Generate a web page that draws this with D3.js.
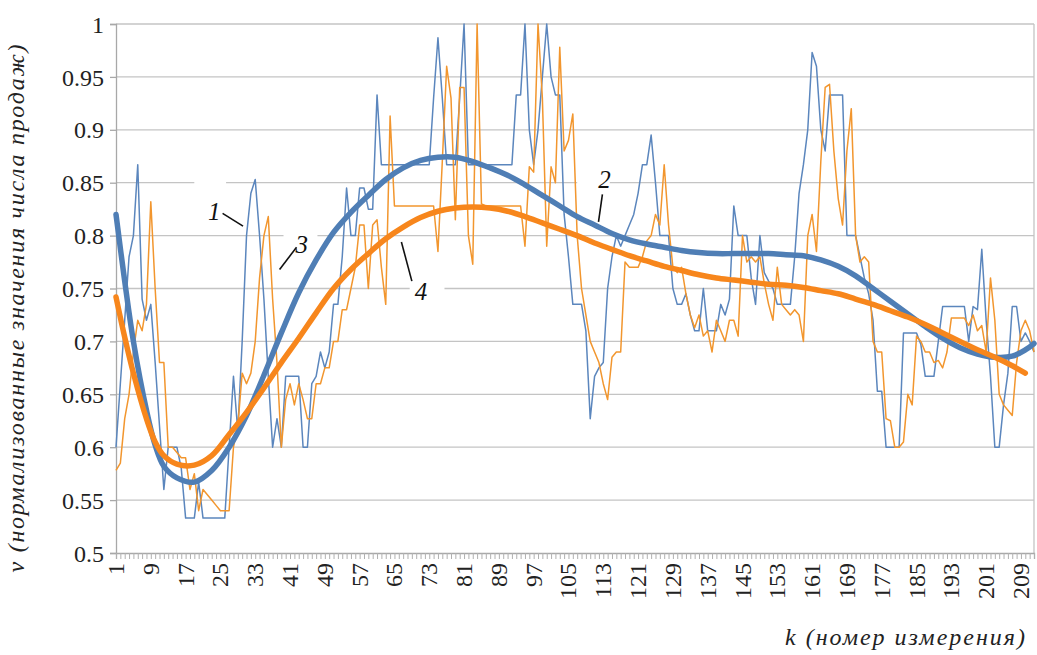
<!DOCTYPE html>
<html><head><meta charset="utf-8">
<script src="https://cdn.jsdelivr.net/npm/d3@7"></script>
<style>body{margin:0;background:#fff}svg{display:block}</style>
</head><body>
<svg id="c" width="1037" height="655"></svg>
<script>
// ---- data ----
const categories = d3.range(1, 213);               // k = 1..212
const xTickLabels = d3.range(1, 213, 8);            // 1, 9, 17, ... 209
const yTicks = [0.5,0.55,0.6,0.65,0.7,0.75,0.8,0.85,0.9,0.95,1];
const yTickLabels = ["0.5","0.55","0.6","0.65","0.7","0.75","0.8","0.85","0.9","0.95","1"];

const series1 = [ // curve 1 (blue, thin)
0.600,0.660,0.720,0.780,0.800,0.867,0.740,0.720,0.735,0.680,
0.620,0.560,0.600,0.600,0.600,0.580,0.533,0.533,0.533,0.567,
0.533,0.533,0.533,0.533,0.533,0.533,0.600,0.667,0.615,0.700,
0.800,0.840,0.853,0.800,0.740,0.667,0.600,0.627,0.600,0.667,
0.667,0.667,0.667,0.600,0.600,0.660,0.667,0.690,0.675,0.690,
0.735,0.735,0.780,0.845,0.800,0.800,0.845,0.845,0.825,0.825,
0.933,0.867,0.867,0.867,0.867,0.867,0.867,0.867,0.867,0.867,
0.867,0.867,0.867,0.930,0.987,0.930,0.867,0.867,0.867,0.930,
1.000,0.867,0.867,0.867,0.867,0.867,0.867,0.867,0.867,0.867,
0.867,0.867,0.933,0.933,1.000,0.900,0.867,0.900,0.950,1.000,
0.950,0.933,0.933,0.820,0.780,0.735,0.735,0.735,0.710,0.627,
0.667,0.675,0.680,0.750,0.780,0.800,0.790,0.800,0.810,0.820,
0.840,0.867,0.867,0.895,0.850,0.800,0.800,0.800,0.750,0.735,
0.735,0.745,0.725,0.710,0.710,0.750,0.710,0.710,0.710,0.735,
0.725,0.740,0.828,0.800,0.800,0.800,0.760,0.735,0.800,0.765,
0.757,0.750,0.735,0.735,0.735,0.735,0.780,0.840,0.867,0.900,
0.973,0.960,0.900,0.880,0.933,0.933,0.933,0.933,0.800,0.800,
0.800,0.780,0.760,0.745,0.720,0.653,0.653,0.600,0.600,0.600,
0.600,0.708,0.708,0.708,0.708,0.697,0.667,0.667,0.667,0.700,
0.733,0.733,0.733,0.733,0.733,0.733,0.700,0.733,0.730,0.787,
0.720,0.667,0.600,0.600,0.640,0.670,0.733,0.733,0.700,0.708,
0.700,0.690];

const series3 = [ // curve 3 (orange, thin)
0.578,0.585,0.627,0.650,0.690,0.720,0.710,0.735,0.832,0.750,
0.680,0.680,0.600,0.600,0.595,0.590,0.590,0.560,0.575,0.540,
0.560,0.555,0.550,0.545,0.540,0.540,0.540,0.600,0.620,0.670,
0.660,0.670,0.700,0.760,0.800,0.818,0.740,0.680,0.600,0.645,
0.660,0.640,0.660,0.645,0.627,0.627,0.660,0.660,0.675,0.675,
0.700,0.700,0.730,0.730,0.750,0.770,0.810,0.810,0.750,0.810,
0.815,0.770,0.735,0.913,0.828,0.828,0.828,0.828,0.828,0.828,
0.828,0.828,0.828,0.828,0.785,0.870,0.960,0.930,0.815,0.940,
0.940,0.800,0.773,1.000,0.830,0.828,0.828,0.828,0.828,0.828,
0.828,0.828,0.828,0.828,0.790,0.865,0.860,1.000,0.930,0.790,
0.865,0.850,0.978,0.880,0.890,0.915,0.800,0.750,0.725,0.700,
0.690,0.680,0.660,0.645,0.685,0.690,0.690,0.775,0.770,0.770,
0.770,0.780,0.795,0.800,0.820,0.810,0.867,0.810,0.770,0.765,
0.770,0.745,0.725,0.713,0.725,0.705,0.710,0.690,0.720,0.710,
0.700,0.720,0.720,0.705,0.800,0.775,0.780,0.775,0.780,0.755,
0.735,0.720,0.770,0.735,0.730,0.725,0.730,0.725,0.700,0.800,
0.820,0.785,0.870,0.940,0.943,0.880,0.835,0.810,0.880,0.920,
0.800,0.775,0.780,0.775,0.700,0.690,0.690,0.627,0.625,0.600,
0.600,0.605,0.650,0.640,0.705,0.700,0.690,0.690,0.680,0.682,
0.675,0.690,0.722,0.722,0.722,0.722,0.715,0.725,0.710,0.715,
0.690,0.760,0.720,0.650,0.640,0.635,0.630,0.680,0.710,0.720,
0.710,0.690];

// trend curves 2 (blue) and 4 (orange), read at sample k
const trendK = [1,3,5,8,10,12,15,19,23,27,31,35,39,43,47,51,55,59,63,67,71,75,79,83,87,91,95,99,103,107,111,115,119,123,127,131,135,139,143,147,151,155,159,163,167,171,175,179,183,187,191,195,199,203,207,210,212];
const trend2 = [0.820,0.757,0.700,0.635,0.602,0.582,0.571,0.567,0.578,0.600,0.630,0.668,0.708,0.746,0.777,0.803,0.822,0.838,0.853,0.864,0.871,0.874,0.874,0.870,0.864,0.857,0.848,0.838,0.828,0.818,0.810,0.802,0.796,0.792,0.789,0.786,0.784,0.783,0.783,0.783,0.783,0.782,0.781,0.777,0.771,0.762,0.750,0.738,0.726,0.714,0.703,0.694,0.688,0.685,0.686,0.692,0.698];
const trend4 = [0.742,0.704,0.670,0.627,0.605,0.592,0.584,0.583,0.592,0.612,0.633,0.656,0.680,0.703,0.727,0.750,0.768,0.783,0.797,0.808,0.817,0.823,0.826,0.827,0.826,0.823,0.818,0.812,0.806,0.800,0.793,0.787,0.781,0.776,0.771,0.767,0.763,0.760,0.758,0.756,0.754,0.753,0.751,0.748,0.745,0.740,0.735,0.729,0.723,0.716,0.708,0.700,0.692,0.685,0.677,0.670,null];

const labels = ["1","2","3","4"];

// ---- layout ----
const L = 116, R = 1034, T = 24, B = 553;
const svg = d3.select("#c");
const x = d3.scaleLinear().domain([1, 212]).range([L, R]);
const y = d3.scaleLinear().domain([0.5, 1]).range([B, T]);
const serif = "Liberation Serif, Tinos, Times New Roman, DejaVu Serif, serif";

// gridlines
svg.append("g").selectAll("line").data(yTicks.slice(1)).join("line")
  .attr("x1", L).attr("x2", R).attr("y1", d => y(d)).attr("y2", d => y(d))
  .attr("stroke", "#c4c4c4").attr("stroke-width", 1.3);
// right border
svg.append("line").attr("x1", R).attr("x2", R).attr("y1", T).attr("y2", B)
  .attr("stroke", "#c4c4c4").attr("stroke-width", 1.3);

// y axis
const yAxis = d3.axisLeft(y).tickValues(yTicks).tickSize(6)
  .tickFormat((d, i) => yTickLabels[i]);
const gy = svg.append("g").attr("transform", `translate(${L},0)`).call(yAxis)
  .attr("font-family", null).attr("font-size", null);
gy.select(".domain").attr("stroke", "#a8a8a8").attr("stroke-width", 1.3);
gy.selectAll(".tick line").attr("stroke", "#a8a8a8").attr("stroke-width", 1.3);
gy.selectAll(".tick text").style("font-family", serif).style("font-size", "24px")
  .attr("fill", "#222").attr("x", -12).attr("dy", "0.34em");

// x axis: tick for every category
const xAxis = d3.axisBottom(x).tickValues(categories).tickSize(6).tickFormat("");
const gx = svg.append("g").attr("transform", `translate(0,${B})`).call(xAxis);
gx.select(".domain").attr("stroke", "#a8a8a8").attr("stroke-width", 1.3);
gx.selectAll(".tick line").attr("stroke", "#b0b0b0").attr("stroke-width", 1);
// x tick labels
svg.append("g").selectAll("text").data(xTickLabels).join("text")
  .attr("transform", d => `translate(${x(d) + 8},${B + 10}) rotate(-90)`)
  .attr("text-anchor", "end")
  .style("font-family", serif).style("font-size", "24px").attr("fill", "#222")
  .text(d => d);

// lines
const line = d3.line().x((d, i) => x(categories[i])).y(d => y(d));
svg.append("path").datum(series1).attr("d", line).attr("fill", "none")
  .attr("stroke", "#5b86bd").attr("stroke-width", 1.5).attr("stroke-linejoin", "round");
svg.append("path").datum(series3).attr("d", line).attr("fill", "none")
  .attr("stroke", "#f2962e").attr("stroke-width", 1.5).attr("stroke-linejoin", "round");

const tline = d3.line().defined(d => d[1] != null)
  .x(d => x(d[0])).y(d => y(d[1])).curve(d3.curveCatmullRom);
svg.append("path").datum(trendK.map((k, i) => [k, trend2[i]])).attr("d", tline)
  .attr("fill", "none").attr("stroke", "#4f7eb5").attr("stroke-width", 5.5).attr("stroke-linecap", "round");
svg.append("path").datum(trendK.map((k, i) => [k, trend4[i]])).attr("d", tline)
  .attr("fill", "none").attr("stroke", "#f7861c").attr("stroke-width", 5.5).attr("stroke-linecap", "round");

// annotations: label, label centre (k, v), leader line from (k,v) to (k,v)
const ann = [
  {t: labels[0], k: 23.6, v: 0.823, box: [19, 26.3, 0.85], l: [[25.5, 0.821], [30.2, 0.809]]},
  {t: labels[1], k: 113.3, v: 0.853, box: [107, 114.5, 0.85], l: [[112.8, 0.839], [111.9, 0.813]]},
  {t: labels[2], k: 43.7, v: 0.792, box: [39.5, 47.3, 0.8], l: [[42.5, 0.789], [38.6, 0.768]]},
  {t: labels[3], k: 71.1, v: 0.747, box: [68.5, 76.5, 0.75], l: [[66.6, 0.794], [69.0, 0.757]]}
];
const ga = svg.append("g");
ann.forEach(a => {
  ga.append("rect").attr("x", x(a.box[0])).attr("width", x(a.box[1]) - x(a.box[0]))
    .attr("y", y(a.box[2]) - 3).attr("height", 6).attr("fill", "#fff");
});
ann.forEach(a => {
  ga.append("line").attr("x1", x(a.l[0][0])).attr("y1", y(a.l[0][1]))
    .attr("x2", x(a.l[1][0])).attr("y2", y(a.l[1][1]))
    .attr("stroke", "#111").attr("stroke-width", 1.6);
  ga.append("text").attr("x", x(a.k)).attr("y", y(a.v)).attr("dy", "0.35em")
    .attr("text-anchor", "middle").style("font-family", serif).style("font-style", "italic")
    .style("font-size", "25px").attr("fill", "#111").text(a.t);
});

// axis titles
svg.append("text").attr("transform", `translate(24,${(T + B) / 2 + 20}) rotate(-90)`)
  .attr("text-anchor", "middle").style("font-family", serif).style("font-style", "italic")
  .style("font-size", "24px").attr("fill", "#222")
  .attr("textLength", 528).attr("lengthAdjust", "spacing")
  .text("v (нормализованные значения числа продаж)");
svg.append("text").attr("x", 1025).attr("y", 645).attr("text-anchor", "end")
  .style("font-family", serif).style("font-style", "italic")
  .style("font-size", "24px").attr("fill", "#222")
  .attr("textLength", 240).attr("lengthAdjust", "spacing")
  .text("k (номер измерения)");
</script>
</body></html>
